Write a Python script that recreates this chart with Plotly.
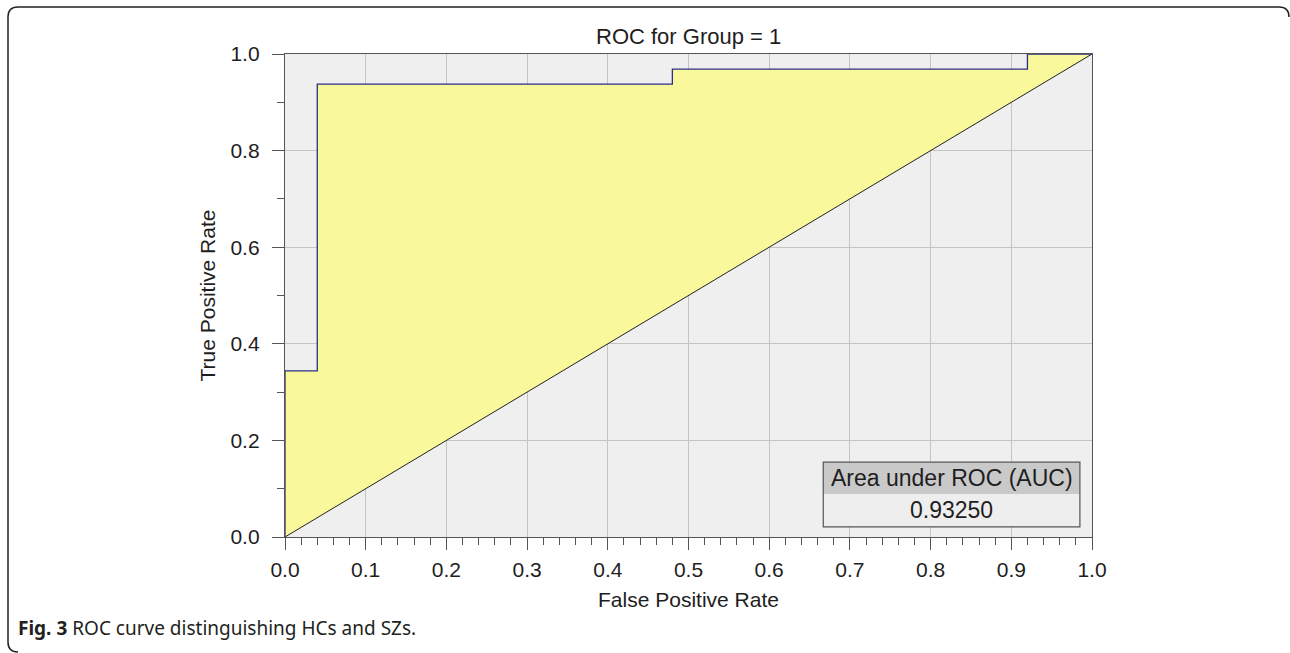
import plotly.graph_objects as go

# ---- data ----
fpr = [0.0, 0.0, 0.04, 0.04, 0.48, 0.48, 0.92, 0.92, 1.0]
tpr = [0.0, 0.34375, 0.34375, 0.9375, 0.9375, 0.96875, 0.96875, 1.0, 1.0]
diag_x = [0.0, 1.0]
diag_y = [0.0, 1.0]
auc_label = "Area under ROC (AUC)"
auc_value = "0.93250"
title_text = "ROC for Group = 1"
x_title = "False Positive Rate"
y_title = "True Positive Rate"
caption_bold = "Fig. 3"
caption_rest = " ROC curve distinguishing HCs and SZs."

W, H = 1290, 653
L, R, T, B = 285, 1092, 54, 537
FONT = "Arial, Liberation Sans, sans-serif"
TXT = "#1E1E1E"


def px_x(p):
    return (p - L) / (R - L)


def px_y(p):
    return (B - p) / (B - T)


fig = go.Figure()

# fill between ROC and diagonal
fill_x = fpr + diag_x[::-1]
fill_y = tpr + diag_y[::-1]
fig.add_trace(go.Scatter(x=fill_x, y=fill_y, mode="lines", fill="toself",
                         fillcolor="#F9F99B", line=dict(width=0),
                         hoverinfo="skip", showlegend=False))
fig.add_trace(go.Scatter(x=diag_x, y=diag_y, mode="lines",
                         line=dict(color="#222222", width=1),
                         showlegend=False))
fig.add_trace(go.Scatter(x=fpr, y=tpr, mode="lines",
                         line=dict(color="#2E2E8A", width=1.3),
                         showlegend=False))

axis_common = dict(
    range=[0, 1], showline=True, mirror=True, linecolor="#555555", linewidth=1.3,
    ticks="outside", ticklen=12, tickwidth=1.3, tickcolor="#555555",
    showgrid=True, gridcolor="#C4C4C4", gridwidth=1, zeroline=False,
    tickfont=dict(family=FONT, size=21, color=TXT),
    tickformat=".1f",
)

fig.update_xaxes(**axis_common, dtick=0.1, tick0=0,
                 minor=dict(dtick=0.02, ticklen=7, tickwidth=1.3, tickcolor="#555555",
                            ticks="outside", showgrid=False),
                 ticklabelstandoff=2,
                 title=dict(text=x_title, standoff=11,
                            font=dict(family=FONT, size=21, color=TXT)))
fig.update_yaxes(**axis_common, dtick=0.2, tick0=0,
                 minor=dict(dtick=0.1, ticklen=7, tickwidth=1.3, tickcolor="#555555",
                            ticks="outside", showgrid=False),
                 ticklabelstandoff=8,
                 title=dict(text=y_title, standoff=9,
                            font=dict(family=FONT, size=21, color=TXT)))

# AUC box
bx0, bx1 = 0.667, 0.985
by_top, by_mid, by_bot = 0.155, 0.089, 0.021
fig.add_shape(type="rect", xref="x", yref="y", x0=bx0, x1=bx1, y0=by_mid, y1=by_top,
              fillcolor="#C9C9C9", line=dict(width=0), layer="above")
fig.add_shape(type="rect", xref="x", yref="y", x0=bx0, x1=bx1, y0=by_bot, y1=by_mid,
              fillcolor="#EEEEEE", line=dict(width=0), layer="above")
fig.add_shape(type="rect", xref="x", yref="y", x0=bx0, x1=bx1, y0=by_bot, y1=by_top,
              line=dict(color="#555555", width=1.2), layer="above")
fig.add_annotation(x=(bx0 + bx1) / 2, y=(by_mid + by_top) / 2, xref="x", yref="y",
                   text=auc_label, showarrow=False,
                   font=dict(family=FONT, size=23, color=TXT))
fig.add_annotation(x=(bx0 + bx1) / 2, y=(by_bot + by_mid) / 2, xref="x", yref="y",
                   text=auc_value, showarrow=False,
                   font=dict(family=FONT, size=23, color=TXT))

# title
fig.add_annotation(x=px_x(688), y=px_y(37), xref="paper", yref="paper",
                   xanchor="center", yanchor="middle",
                   text=title_text, showarrow=False,
                   font=dict(family=FONT, size=22, color=TXT))

# caption
fig.add_annotation(x=px_x(16), y=px_y(628), xref="paper", yref="paper",
                   xanchor="left", yanchor="middle",
                   text="<b>" + caption_bold + "</b>" + caption_rest, showarrow=False,
                   font=dict(family="Noto Sans, Open Sans", size=19, color="#231F20"))

# rounded border frame
r = 10
x0p, y0p, x1p, y1p = 8, 7, 1289, 652
path = (f"M {px_x(x0p + r)},{px_y(y1p)} "
        f"Q {px_x(x0p)},{px_y(y1p)} {px_x(x0p)},{px_y(y1p - r)} "
        f"L {px_x(x0p)},{px_y(y0p + r)} "
        f"Q {px_x(x0p)},{px_y(y0p)} {px_x(x0p + r)},{px_y(y0p)} "
        f"L {px_x(x1p - r)},{px_y(y0p)} "
        f"Q {px_x(x1p)},{px_y(y0p)} {px_x(x1p)},{px_y(y0p + r)}")
fig.add_shape(type="path", xref="paper", yref="paper", path=path,
              line=dict(color="#222222", width=1.5))

fig.update_layout(
    width=W, height=H,
    margin=dict(l=L, r=W - R, t=T, b=H - B),
    paper_bgcolor="white", plot_bgcolor="#EFEFEF",
    showlegend=False,
)

fig.write_html("out.html", config={"displayModeBar": False},
               post_script="document.body.style.margin='0';document.body.style.overflow='hidden';")
